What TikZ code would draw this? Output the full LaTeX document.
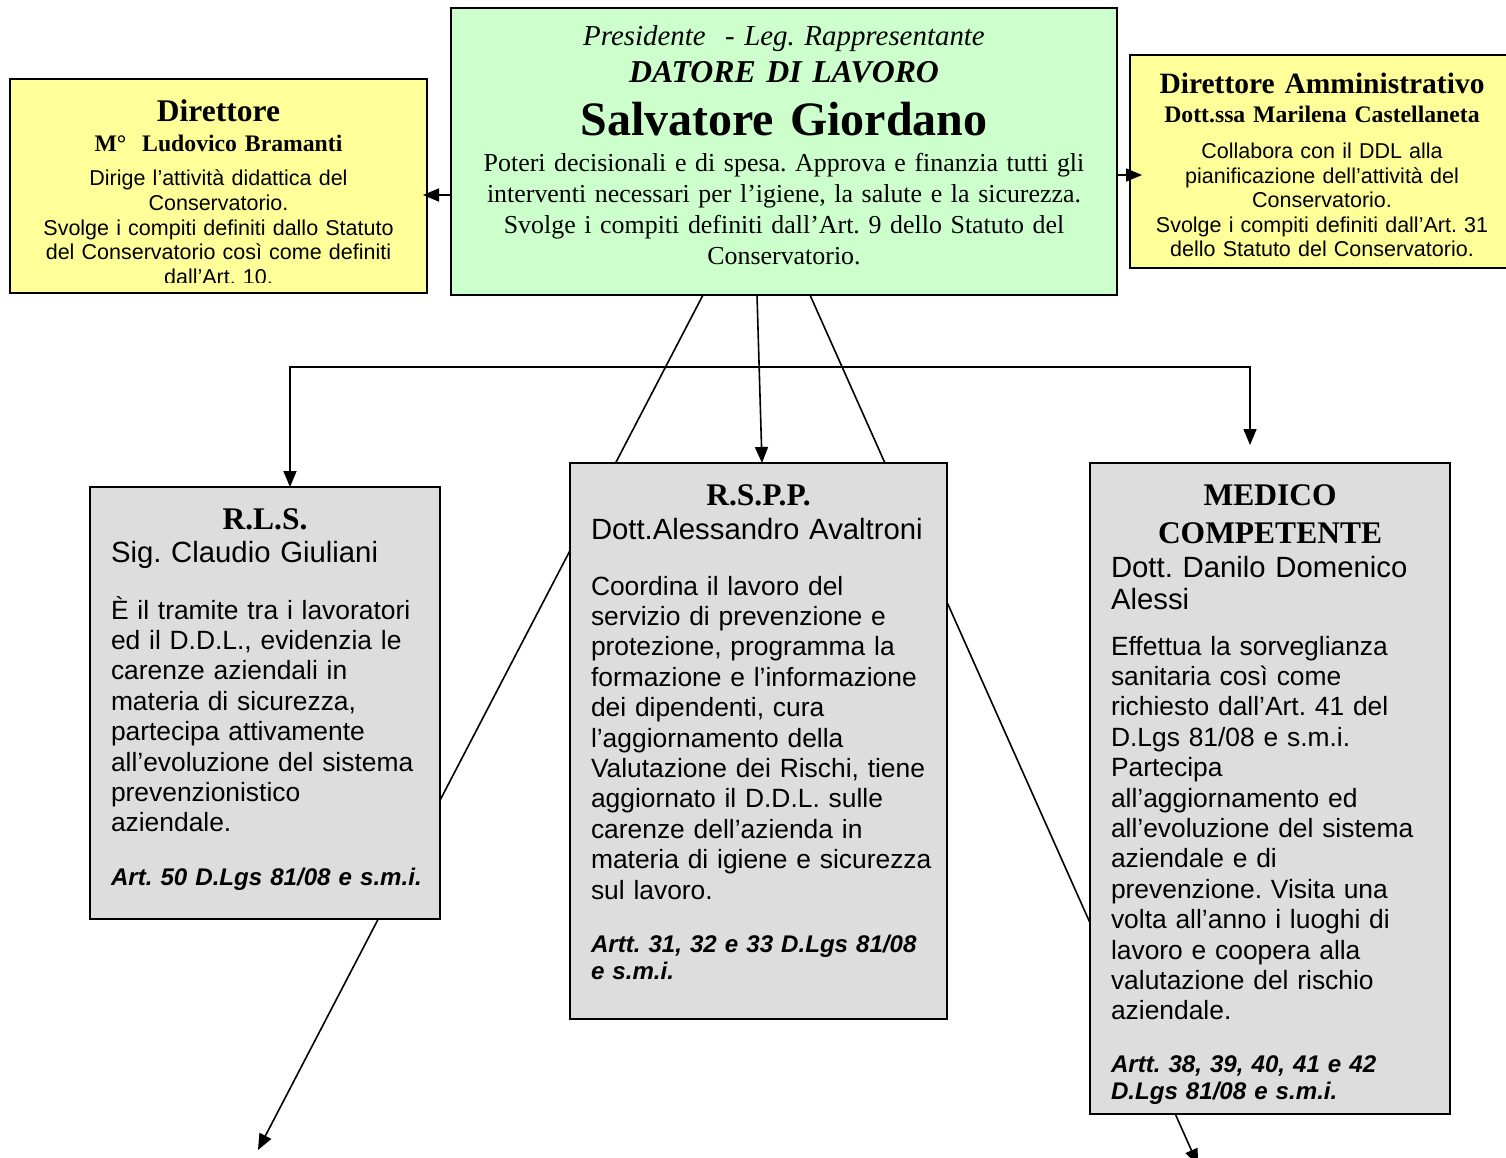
\documentclass[tikz,border=0pt]{standalone}
\usepackage{fontspec}
\setmainfont{Liberation Serif}
\newfontfamily\sansf{Liberation Sans}
\usetikzlibrary{arrows.meta}
\definecolor{boxgreen}{HTML}{CCFFCC}
\definecolor{boxyellow}{HTML}{FFFF99}
\definecolor{boxgray}{HTML}{DDDDDD}
\newcommand{\fsz}[2]{\fontsize{#1pt}{#2pt}\selectfont}
\frenchspacing
\begin{document}
\begin{tikzpicture}[x=1pt,y=-1pt,
  frame/.style={draw=black, line width=1.8pt, anchor=north west, inner sep=0pt, outer sep=0pt},
  txt/.style={inner sep=0pt, outer sep=0pt, execute at begin node=\frenchspacing},
  ctxt/.style={txt, anchor=base, align=center},
  ltxt/.style={txt, anchor=base west, align=left},
  conn/.style={line width=1.6pt},
  arrowend/.style={-{Triangle[length=16pt,width=13pt]}},
  arrowboth/.style={{Triangle[length=16pt,width=13pt]}-{Triangle[length=16pt,width=13pt]}},
  ttl/.style={font=\bfseries\fsz{31.5}{37.8}},
  nm/.style={font=\sansf\fsz{29.3}{32.6}},
  bd/.style={font=\sansf\fsz{26.4}{30.4}},
  ref/.style={font=\sansf\bfseries\itshape\fsz{24.1}{27}}
]
\useasboundingbox (0,0) rectangle (1506,1157);
\clip (0,0) rectangle (1506,1157);

% ---- top green box
\node[frame, fill=boxgreen, minimum width=666pt, minimum height=287pt] (pres) at (451,8) {};
\node[ctxt, text width=660pt, font=\itshape\fsz{28.9}{33}] (presA) at (784,45) {Presidente\ \ - Leg. Rappresentante};
\node[ctxt, text width=660pt, font=\bfseries\itshape\fsz{31.8}{36}] (presB) at (784,82) {DATORE DI LAVORO};
\node[ctxt, text width=660pt, font=\bfseries\fsz{48}{54}] (presC) at (784,135) {Salvatore Giordano};
\node[ctxt, text width=660pt, font=\fsz{25.9}{31.3}] (presD) at (784,171) {Poteri decisionali e di spesa. Approva e finanzia tutti gli\\interventi necessari per l’igiene, la salute e la sicurezza.\\Svolge i compiti definiti dall’Art. 9 dello Statuto del\\Conservatorio.};

% ---- left yellow box
\node[frame, fill=boxyellow, minimum width=417pt, minimum height=214pt] (dir) at (10,79) {};
\begin{scope}
\clip (12,81) rectangle (425,282.5);
\node[ctxt, text width=410pt, font=\bfseries\fsz{31.5}{36}] (dirA) at (218.5,121.7) {Direttore};
\node[ctxt, text width=410pt, font=\bfseries\fsz{23.7}{27}] (dirB) at (218.5,151) {M°\ \ Ludovico Bramanti};
\node[ctxt, text width=410pt, font=\sansf\fsz{21.5}{24.7}] (dirC) at (218.5,185.7) {Dirige l’attività didattica del\\Conservatorio.\\Svolge i compiti definiti dallo Statuto\\del Conservatorio così come definiti\\dall’Art. 10.};
\end{scope}

% ---- right yellow box
\node[frame, fill=boxyellow, minimum width=384pt, minimum height=213pt] (damm) at (1130,55) {};
\node[ctxt, text width=380pt, font=\bfseries\fsz{29.5}{34}] (dammA) at (1322,93.3) {Direttore Amministrativo};
\node[ctxt, text width=380pt, font=\bfseries\fsz{23.7}{27}] (dammB) at (1322,122.5) {Dott.ssa Marilena Castellaneta};
\node[ctxt, text width=380pt, font=\sansf\fsz{21.5}{24.6}] (dammC) at (1322,158.5) {Collabora con il DDL alla\\pianificazione dell’attività del\\Conservatorio.\\Svolge i compiti definiti dall’Art. 31\\dello Statuto del Conservatorio.};

% ---- long diagonals (behind the grey boxes)
\coordinate (endL) at (258,1150);
\coordinate (endR) at (1198,1165);
\draw[conn, arrowend] ([xshift=-81pt]pres.south) -- (endL);
\draw[conn, arrowend] ([xshift=26pt]pres.south) -- (endR);

% ---- grey boxes
\node[frame, fill=boxgray, minimum width=350pt, minimum height=432pt] (rls) at (90,487) {};
\node[frame, fill=boxgray, minimum width=377pt, minimum height=556pt] (rspp) at (570,463) {};
\node[frame, fill=boxgray, minimum width=360pt, minimum height=651pt] (mc) at (1090,463) {};

% RLS
\node[ctxt, ttl, text width=340pt] (rlsA) at (265,529.3) {R.L.S.};
\node[ltxt, nm, text width=325pt] (rlsB) at (111,562.5) {Sig. Claudio Giuliani};
\node[ltxt, bd, text width=325pt] (rlsC) at (111,619) {È il tramite tra i lavoratori\\ed il D.D.L., evidenzia le\\carenze aziendali in\\materia di sicurezza,\\partecipa attivamente\\all’evoluzione del sistema\\prevenzionistico\\aziendale.};
\node[ltxt, ref, text width=325pt] (rlsD) at (111,885.5) {Art. 50 D.Lgs 81/08 e s.m.i.};

% RSPP
\node[ctxt, ttl, text width=370pt] (rsppA) at (758.5,505.6) {R.S.P.P.};
\node[ltxt, nm, text width=350pt] (rsppB) at (591,539.7) {Dott.Alessandro Avaltroni};
\node[ltxt, bd, text width=350pt] (rsppC) at (591,595) {Coordina il lavoro del\\servizio di prevenzione e\\protezione, programma la\\formazione e l’informazione\\dei dipendenti, cura\\l’aggiornamento della\\Valutazione dei Rischi, tiene\\aggiornato il D.D.L. sulle\\carenze dell’azienda in\\materia di igiene e sicurezza\\sul lavoro.};
\node[ltxt, ref, text width=350pt] (rsppD) at (591,952) {Artt. 31, 32 e 33 D.Lgs 81/08\\e s.m.i.};

% MEDICO
\node[ctxt, ttl, text width=350pt] (mcA) at (1270,505.5) {MEDICO\\COMPETENTE};
\node[ltxt, nm, text width=335pt] (mcB) at (1111,577) {Dott. Danilo Domenico\\Alessi};
\node[ltxt, bd, text width=335pt] (mcC) at (1111,655) {Effettua la sorveglianza\\sanitaria così come\\richiesto dall’Art. 41 del\\D.Lgs 81/08 e s.m.i.\\Partecipa\\all’aggiornamento ed\\all’evoluzione del sistema\\aziendale e di\\prevenzione. Visita una\\volta all’anno i luoghi di\\lavoro e coopera alla\\valutazione del rischio\\aziendale.};
\node[ltxt, ref, text width=335pt] (mcD) at (1111,1072.8) {Artt. 38, 39, 40, 41 e 42\\D.Lgs 81/08 e s.m.i.};

% ---- other connectors
\draw[conn, arrowend] ([xshift=-27pt]pres.south) -- ([xshift=3.5pt]rspp.north);
\coordinate (mcarr) at (1250,445);
\draw[conn, arrowboth] ([xshift=25pt]rls.north) -- ++(0,-120) -| (mcarr);
\draw[conn, arrowend] ([yshift=-43.5pt]pres.west) -- ([yshift=-9pt,xshift=-4pt]dir.east);
\draw[conn, arrowend] ([yshift=-23.5pt]pres.east) -- ([yshift=-13.5pt,xshift=12pt]damm.west);
\end{tikzpicture}
\end{document}
